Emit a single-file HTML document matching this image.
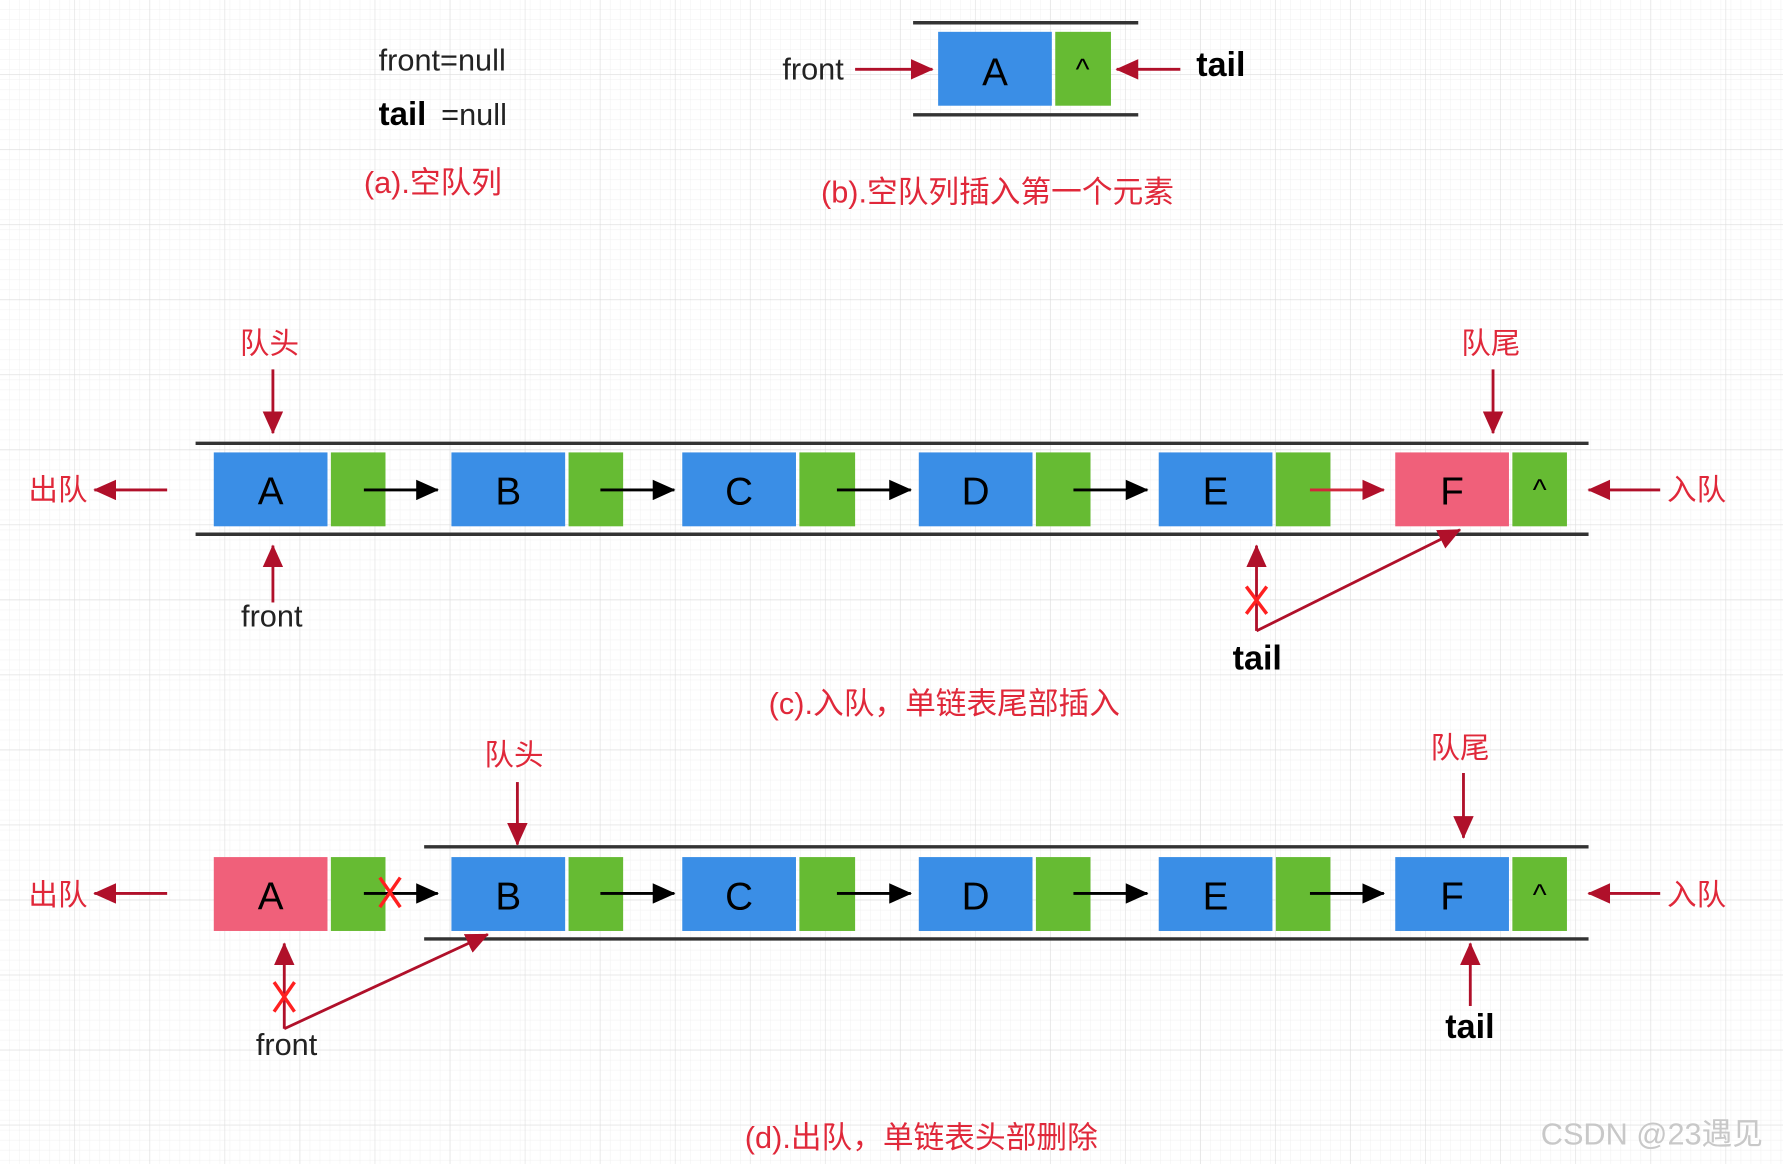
<!DOCTYPE html>
<html><head><meta charset="utf-8"><style>
html,body{margin:0;padding:0;background:#fff;}
svg{display:block}
text{font-family:"Liberation Sans","Noto Sans CJK SC",sans-serif;}
</style></head><body>
<svg width="1783" height="1164" viewBox="0 0 1568 1024" preserveAspectRatio="none" xmlns="http://www.w3.org/2000/svg">
<defs>
<pattern id="g1" width="8.8" height="8.8" patternUnits="userSpaceOnUse"><path d="M8.8 0V8.8H0" fill="none" stroke="#efefef" stroke-width="0.8"/></pattern>
<pattern id="g2" width="66" height="66" patternUnits="userSpaceOnUse"><path d="M66 0V66H0" fill="none" stroke="#dcdcdc" stroke-width="1"/></pattern>
<marker id="ar" markerWidth="10" markerHeight="10" refX="9" refY="5" orient="auto" markerUnits="userSpaceOnUse" viewBox="0 0 10 10"><path d="M0 0L10 5L0 10z" fill="#b0102a"/></marker>
<marker id="ab" markerWidth="10" markerHeight="10" refX="9" refY="5" orient="auto" markerUnits="userSpaceOnUse" viewBox="0 0 10 10"><path d="M0 0L10 5L0 10z" fill="#000"/></marker>
<marker id="arL" markerWidth="20" markerHeight="18" refX="19" refY="9" orient="auto" markerUnits="userSpaceOnUse" viewBox="0 0 20 18"><path d="M0 0L20 9L0 18z" fill="#b0102a"/></marker>
<marker id="abL" markerWidth="20" markerHeight="18" refX="19" refY="9" orient="auto" markerUnits="userSpaceOnUse" viewBox="0 0 20 18"><path d="M0 0L20 9L0 18z" fill="#000"/></marker>
</defs>
<rect width="1568" height="1024" fill="#fff"/>
<rect width="1568" height="1024" fill="url(#g1)"/>
<rect width="1568" height="1024" fill="url(#g2)"/>

<!-- (a) -->
<text x="333" y="62" font-size="27" fill="#222">front=null</text>
<text x="333" y="110" font-size="29" fill="#000" font-weight="bold">tail</text>
<text x="388" y="110" font-size="27" fill="#222">=null</text>
<text x="320" y="170" font-size="27" fill="#e0283a">(a).空队列</text>

<!-- (b) -->
<line x1="803" y1="20" x2="1001" y2="20" stroke="#333" stroke-width="3"/>
<line x1="803" y1="101" x2="1001" y2="101" stroke="#333" stroke-width="3"/>
<rect x="825" y="28" width="100" height="65" fill="#3a8ee6"/>
<rect x="928" y="28" width="49" height="65" fill="#66bb33"/>
<text x="875" y="75" font-size="34" text-anchor="middle">A</text>
<text x="952" y="70" font-size="26" text-anchor="middle">^</text>
<text x="688" y="70" font-size="27" fill="#222">front</text>
<line x1="752" y1="61" x2="820" y2="61" stroke="#b0102a" stroke-width="2.5" marker-end="url(#arL)"/>
<text x="1052" y="67" font-size="30" font-weight="bold">tail</text>
<line x1="1038" y1="61" x2="982" y2="61" stroke="#b0102a" stroke-width="2.5" marker-end="url(#arL)"/>
<text x="722" y="178" font-size="27" fill="#e0283a">(b).空队列插入第一个元素</text>

<!-- (c) -->
<line x1="172" y1="390" x2="1397" y2="390" stroke="#333" stroke-width="3"/>
<line x1="172" y1="470" x2="1397" y2="470" stroke="#333" stroke-width="3"/>
<g font-size="34" text-anchor="middle">
<rect x="188" y="398" width="100" height="65" fill="#3a8ee6"/><rect x="291" y="398" width="48" height="65" fill="#66bb33"/><text x="238" y="444">A</text>
<rect x="397" y="398" width="100" height="65" fill="#3a8ee6"/><rect x="500" y="398" width="48" height="65" fill="#66bb33"/><text x="447" y="444">B</text>
<rect x="600" y="398" width="100" height="65" fill="#3a8ee6"/><rect x="703" y="398" width="49" height="65" fill="#66bb33"/><text x="650" y="444">C</text>
<rect x="808" y="398" width="100" height="65" fill="#3a8ee6"/><rect x="911" y="398" width="48" height="65" fill="#66bb33"/><text x="858" y="444">D</text>
<rect x="1019" y="398" width="100" height="65" fill="#3a8ee6"/><rect x="1122" y="398" width="48" height="65" fill="#66bb33"/><text x="1069" y="444">E</text>
<rect x="1227" y="398" width="100" height="65" fill="#f0607a"/><rect x="1330" y="398" width="48" height="65" fill="#66bb33"/><text x="1277" y="444">F</text>
<text x="1354" y="440" font-size="26">^</text>
</g>
<g stroke="#000" stroke-width="2.5">
<line x1="320" y1="431" x2="385" y2="431" marker-end="url(#abL)"/>
<line x1="528" y1="431" x2="593" y2="431" marker-end="url(#abL)"/>
<line x1="736" y1="431" x2="801" y2="431" marker-end="url(#abL)"/>
<line x1="944" y1="431" x2="1009" y2="431" marker-end="url(#abL)"/>
</g>
<line x1="1152" y1="431" x2="1217" y2="431" stroke="#d0283a" stroke-width="2.5" marker-end="url(#arL)"/>
<g stroke="#b0102a" stroke-width="2.5" fill="none">
<line x1="240" y1="325" x2="240" y2="381" marker-end="url(#arL)"/>
<line x1="240" y1="530" x2="240" y2="480" marker-end="url(#arL)"/>
<line x1="1313" y1="325" x2="1313" y2="381" marker-end="url(#arL)"/>
<line x1="147" y1="431" x2="83" y2="431" marker-end="url(#arL)"/>
<line x1="1460" y1="431" x2="1397" y2="431" marker-end="url(#arL)"/>
<line x1="1105" y1="555" x2="1105" y2="480" marker-end="url(#arL)"/>
<line x1="1105" y1="555" x2="1284" y2="466" marker-end="url(#arL)"/>
</g>
<g stroke="#ff2020" stroke-width="3"><line x1="1096" y1="516" x2="1114" y2="540"/><line x1="1114" y1="516" x2="1096" y2="540"/></g>
<g font-size="26" fill="#e0283a">
<text x="211" y="311">队头</text><text x="1285" y="311">队尾</text>
<text x="25" y="440">出队</text><text x="1466" y="440">入队</text>
</g>
<text x="212" y="551" font-size="27" fill="#222">front</text>
<text x="1084" y="589" font-size="30" font-weight="bold">tail</text>
<text x="676" y="628" font-size="27" fill="#e0283a">(c).入队，单链表尾部插入</text>

<!-- (d) -->
<line x1="373" y1="745" x2="1397" y2="745" stroke="#333" stroke-width="3"/>
<line x1="373" y1="826" x2="1397" y2="826" stroke="#333" stroke-width="3"/>
<g font-size="34" text-anchor="middle">
<rect x="188" y="754" width="100" height="65" fill="#f0607a"/><rect x="291" y="754" width="48" height="65" fill="#66bb33"/><text x="238" y="800">A</text>
<rect x="397" y="754" width="100" height="65" fill="#3a8ee6"/><rect x="500" y="754" width="48" height="65" fill="#66bb33"/><text x="447" y="800">B</text>
<rect x="600" y="754" width="100" height="65" fill="#3a8ee6"/><rect x="703" y="754" width="49" height="65" fill="#66bb33"/><text x="650" y="800">C</text>
<rect x="808" y="754" width="100" height="65" fill="#3a8ee6"/><rect x="911" y="754" width="48" height="65" fill="#66bb33"/><text x="858" y="800">D</text>
<rect x="1019" y="754" width="100" height="65" fill="#3a8ee6"/><rect x="1122" y="754" width="48" height="65" fill="#66bb33"/><text x="1069" y="800">E</text>
<rect x="1227" y="754" width="100" height="65" fill="#3a8ee6"/><rect x="1330" y="754" width="48" height="65" fill="#66bb33"/><text x="1277" y="800">F</text>
<text x="1354" y="796" font-size="26">^</text>
</g>
<g stroke="#000" stroke-width="2.5">
<line x1="320" y1="786" x2="385" y2="786" marker-end="url(#abL)"/>
<line x1="528" y1="786" x2="593" y2="786" marker-end="url(#abL)"/>
<line x1="736" y1="786" x2="801" y2="786" marker-end="url(#abL)"/>
<line x1="944" y1="786" x2="1009" y2="786" marker-end="url(#abL)"/>
<line x1="1152" y1="786" x2="1217" y2="786" marker-end="url(#abL)"/>
</g>
<g stroke="#ff2020" stroke-width="3"><line x1="334" y1="772" x2="352" y2="798"/><line x1="352" y1="772" x2="334" y2="798"/></g>
<g stroke="#b0102a" stroke-width="2.5" fill="none">
<line x1="455" y1="688" x2="455" y2="743" marker-end="url(#arL)"/>
<line x1="1287" y1="680" x2="1287" y2="737" marker-end="url(#arL)"/>
<line x1="147" y1="786" x2="83" y2="786" marker-end="url(#arL)"/>
<line x1="1460" y1="786" x2="1397" y2="786" marker-end="url(#arL)"/>
<line x1="250" y1="905" x2="250" y2="830" marker-end="url(#arL)"/>
<line x1="250" y1="905" x2="429" y2="822" marker-end="url(#arL)"/>
<line x1="1293" y1="885" x2="1293" y2="830" marker-end="url(#arL)"/>
</g>
<g stroke="#ff2020" stroke-width="3"><line x1="241" y1="864" x2="259" y2="890"/><line x1="259" y1="864" x2="241" y2="890"/></g>
<g font-size="26" fill="#e0283a">
<text x="426" y="673">队头</text><text x="1258" y="667">队尾</text>
<text x="25" y="796">出队</text><text x="1466" y="796">入队</text>
</g>
<text x="225" y="928" font-size="27" fill="#222">front</text>
<text x="1271" y="913" font-size="30" font-weight="bold">tail</text>
<text x="655" y="1010" font-size="27" fill="#e0283a">(d).出队，单链表头部删除</text>
<text x="1355" y="1007" font-size="27" fill="#c8c8c8">CSDN @23遇见</text>
</svg>
</body></html>
